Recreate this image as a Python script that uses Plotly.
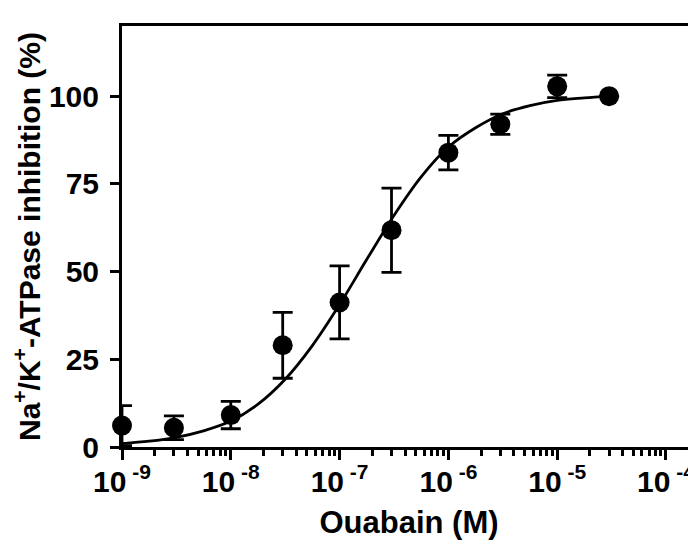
import plotly.graph_objects as go

# Measured points (mean +/- error)
conc = [1e-9, 3e-9, 1e-8, 3e-8, 1e-7, 3e-7, 1e-6, 3e-6, 1e-5, 3e-5]
inhibition = [6.1, 5.5, 9.1, 29.0, 41.2, 61.8, 83.9, 92.0, 102.8, 100.0]
err = [5.7, 3.4, 3.9, 9.4, 10.4, 12.0, 4.9, 2.9, 3.2, 0.0]

# Fitted curve
curve_conc = [1.0e-9, 1.78e-9, 3.16e-9, 5.62e-9, 1.0e-8, 1.78e-8, 3.16e-8, 5.62e-8,
              1.0e-7, 1.78e-7, 3.16e-7, 5.62e-7, 1.0e-6, 1.78e-6, 3.16e-6, 5.62e-6,
              1.0e-5, 1.78e-5, 3.0e-5]
curve_val = [0.98, 1.65, 2.77, 4.61, 7.4, 12.2, 19.3, 28.9,
             40.6, 53.5, 66.0, 77.0, 85.5, 91.0, 95.0, 97.3,
             98.8, 99.5, 100.0]

x_tick_vals = [1e-9, 1e-8, 1e-7, 1e-6, 1e-5, 1e-4]
x_tick_text = ["10<sup> -9</sup>", "10<sup> -8</sup>", "10<sup> -7</sup>",
               "10<sup> -6</sup>", "10<sup> -5</sup>", "10<sup> -4</sup>"]
y_tick_vals = [0, 25, 50, 75, 100]

minor_vals = [m * d for d in x_tick_vals[:-1] for m in range(2, 10)]

FONT = "Liberation Sans, Arial, sans-serif"

fig = go.Figure()
fig.add_trace(go.Scatter(
    x=curve_conc, y=curve_val, mode="lines",
    line=dict(color="black", width=2.8, shape="spline"),
    hoverinfo="skip", showlegend=False, cliponaxis=False,
))
fig.add_trace(go.Scatter(
    x=conc, y=inhibition, mode="markers",
    marker=dict(color="black", size=20),
    error_y=dict(type="data", array=err, visible=True, color="black",
                 thickness=2.8, width=10),
    showlegend=False, cliponaxis=False,
))

fig.update_layout(
    width=688, height=534,
    margin=dict(l=114, r=0, t=18, b=95),
    plot_bgcolor="white", paper_bgcolor="white",
    font=dict(family=FONT, color="black", size=30, weight="bold"),
    xaxis=dict(
        type="log", range=[-9, -3.724],
        tickvals=x_tick_vals, ticktext=x_tick_text,
        ticks="outside", ticklen=10, tickwidth=2.8, tickcolor="black",
        showline=True, linecolor="black", linewidth=3, mirror=True,
        showgrid=False, zeroline=False,
        ticklabelstandoff=-4,
        tickfont=dict(family=FONT, size=30, weight="bold"),
        minor=dict(tickvals=minor_vals, ticks="outside", ticklen=6,
                   tickwidth=2.5, tickcolor="black", showgrid=False),
        title=dict(text="Ouabain (M)",
                   font=dict(family=FONT, size=31, weight="bold")),
    ),
    yaxis=dict(
        range=[0, 120],
        tickvals=y_tick_vals,
        ticks="outside", ticklen=9, tickwidth=2.8, tickcolor="black",
        showline=True, linecolor="black", linewidth=3,
        showgrid=False, zeroline=False,
        ticklabelstandoff=5,
        tickfont=dict(family=FONT, size=30, weight="bold"),
        title=dict(text="Na<sup>+</sup>/K<sup>+</sup>-ATPase inhibition (%)",
                   font=dict(family=FONT, size=30, weight="bold")),
    ),
)

fig.write_html("out.html")
